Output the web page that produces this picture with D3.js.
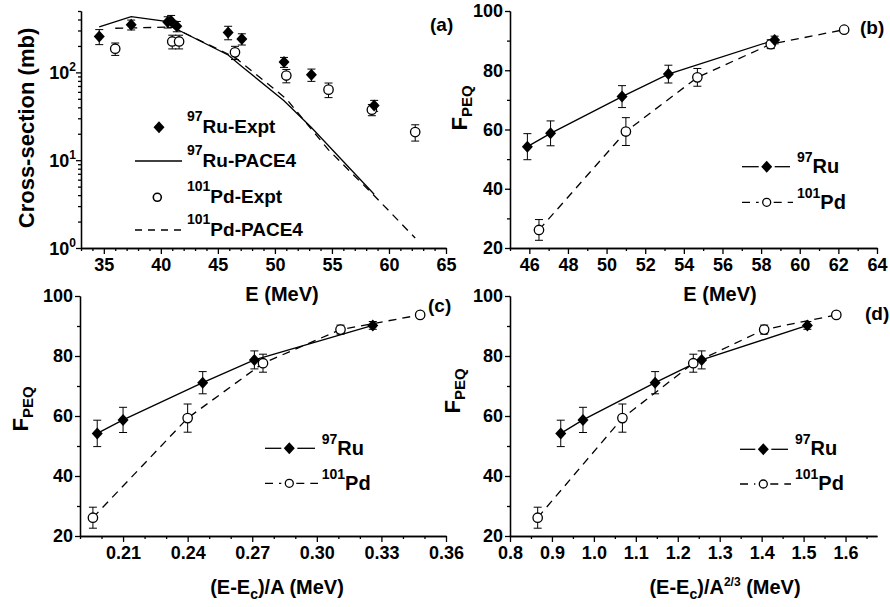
<!DOCTYPE html>
<html><head><meta charset="utf-8">
<script src="https://cdn.jsdelivr.net/npm/d3@7"></script>
<style>
body{margin:0;background:#fff}
svg{display:block;background:#fff}
text{font-family:Arial,"Liberation Sans",sans-serif;font-weight:bold;fill:#000}
</style>
</head><body>
<svg id="chart" width="890" height="607"></svg>
<script>
// ---------- Panel (a): cross-sections ----------
const ruExptE   = [34.6, 37.4, 40.6, 40.9, 41.4, 45.9, 47.1, 50.8, 53.2, 58.7];
const ruExptCS  = [257, 349, 375, 385, 335, 285, 240, 131, 94, 42];
const ruExptErr = [50, 45, 55, 60, 45, 50, 35, 17, 15, 6];
const pdExptE   = [36.0, 41.0, 41.6, 46.5, 51.0, 54.7, 58.5, 62.3];
const pdExptCS  = [186, 225, 225, 169, 92, 63.6, 37.6, 20.9];
const pdExptErr = [30, 40, 40, 29, 16, 12, 5.5, 4.4];
const ruPaceE   = [34.6, 37.4, 40.6, 41.4, 45.9, 47.1, 50.8, 53.2, 58.7];
const ruPaceCS  = [330, 432, 378, 310, 158, 117, 47.5, 23.6, 4.1];
const pdPaceE   = [36.0, 41.0, 41.6, 46.5, 51.0, 54.7, 58.5, 62.3];
const pdPaceCS  = [318, 328, 300, 148, 50, 13.1, 4.2, 1.3];

// ---------- Panels (b)-(d): F_PEQ ----------
const ruE    = [45.9, 47.1, 50.8, 53.2, 58.7];
const ruEA   = [0.198, 0.210, 0.247, 0.271, 0.326];
const ruEA23 = [0.921, 0.974, 1.146, 1.257, 1.509];
const ruF    = [54.2, 58.7, 71.1, 78.7, 90.2];
const ruFErr = [4.4, 4.2, 3.7, 3.0, 1.3];
const pdE    = [46.5, 51.0, 54.7, 58.5, 62.3];
const pdEA   = [0.196, 0.240, 0.275, 0.311, 0.348];
const pdEA23 = [0.866, 1.068, 1.237, 1.406, 1.578];
const pdF    = [26.1, 59.3, 77.6, 88.8, 93.7];
const pdFErr = [3.5, 4.7, 3.0, 1.5, 0.8];

// ---------- Ticks ----------
const xTicksA = [35, 40, 45, 50, 55, 60, 65];
const xMinorA = d3.range(33, 66, 1).filter(v => v % 5 !== 0);
const yTicksA = [1, 10, 100];
const yExpA   = ["0", "1", "2"];
const yMinorA = [2,3,4,5,6,7,8,9,20,30,40,50,60,70,80,90,200,300,400,500];
const xTicksB = [46, 48, 50, 52, 54, 56, 58, 60, 62, 64];
const xMinorB = [45, 47, 49, 51, 53, 55, 57, 59, 61, 63];
const xTicksC = [0.21, 0.24, 0.27, 0.30, 0.33, 0.36];
const xMinorC = [0.19, 0.20, 0.22, 0.23, 0.25, 0.26, 0.28, 0.29, 0.31, 0.32, 0.34, 0.35];
const xTicksD = [0.8, 0.9, 1.0, 1.1, 1.2, 1.3, 1.4, 1.5, 1.6];
const xMinorD = [0.85, 0.95, 1.05, 1.15, 1.25, 1.35, 1.45, 1.55, 1.65];
const yTicksF = [20, 40, 60, 80, 100];
const yMinorF = [30, 50, 70, 90];

const svg = d3.select("#chart");
const SW = 1.3;
const TFS = 18;

function styleAxis(sel){
  sel.select(".domain").attr("stroke","#000").attr("stroke-width",SW);
  sel.selectAll(".tick line").attr("stroke","#000").attr("stroke-width",SW);
  sel.selectAll(".tick text").attr("font-size",TFS).attr("font-weight","bold")
     .attr("font-family",'Arial,"Liberation Sans",sans-serif').attr("fill","#000");
}

function drawAxes(x, y, xMaj, xMin, xFmt, yMaj, yMin, yFmt){
  const y0 = y.range()[0], x0 = x.range()[0];
  svg.append("g").attr("transform",`translate(0,${y0})`)
    .call(d3.axisBottom(x).tickValues(xMin).tickSize(3).tickFormat("").tickSizeOuter(0)).call(styleAxis);
  svg.append("g").attr("transform",`translate(0,${y0})`)
    .call(d3.axisBottom(x).tickValues(xMaj).tickSize(6).tickPadding(4).tickFormat(xFmt).tickSizeOuter(0)).call(styleAxis);
  svg.append("g").attr("transform",`translate(${x0},0)`)
    .call(d3.axisLeft(y).tickValues(yMin).tickSize(3).tickFormat("").tickSizeOuter(0)).call(styleAxis);
  const ya = svg.append("g").attr("transform",`translate(${x0},0)`)
    .call(d3.axisLeft(y).tickValues(yMaj).tickSize(5).tickPadding(2).tickFormat(yFmt || "").tickSizeOuter(0)).call(styleAxis);
  return ya;
}

const diamond = "M0,-6L5.5,0L0,6L-5.5,0Z";

function drawErr(xs, ys, es, x, y){
  const g = svg.append("g").attr("stroke","#000").attr("stroke-width",1);
  xs.forEach((xv,i)=>{
    const px = x(xv), t = y(ys[i]+es[i]), b = y(ys[i]-es[i]);
    g.append("line").attr("x1",px).attr("x2",px).attr("y1",t).attr("y2",b);
    g.append("line").attr("x1",px-4).attr("x2",px+4).attr("y1",t).attr("y2",t);
    g.append("line").attr("x1",px-4).attr("x2",px+4).attr("y1",b).attr("y2",b);
  });
}
function drawDiamonds(xs, ys, x, y){
  svg.append("g").selectAll("path").data(xs).join("path")
    .attr("d",diamond).attr("fill","#000")
    .attr("transform",(d,i)=>`translate(${x(d)},${y(ys[i])})`);
}
function drawCircles(xs, ys, x, y){
  svg.append("g").selectAll("circle").data(xs).join("circle")
    .attr("cx",d=>x(d)).attr("cy",(d,i)=>y(ys[i])).attr("r",4.7)
    .attr("fill","#fff").attr("stroke","#000").attr("stroke-width",SW);
}
function drawLine(xs, ys, x, y, dashed){
  const pts = xs.map((v,i)=>[v, ys[i]]);
  svg.append("path").datum(pts)
    .attr("d", d3.line().x(d=>x(d[0])).y(d=>y(d[1])))
    .attr("fill","none").attr("stroke","#000").attr("stroke-width",SW)
    .attr("stroke-dasharray", dashed ? "8,6" : null);
}
function supText(x, yb, sup, main, fsMain, supDy){
  const t = svg.append("text").attr("x",x).attr("y",yb);
  t.append("tspan").attr("font-size",14).attr("dy",-supDy).text(sup);
  t.append("tspan").attr("font-size",fsMain).attr("dy",supDy).text(main);
}
function yTitleF(x, yc){
  const t = svg.append("text").attr("text-anchor","middle")
    .attr("transform",`translate(${x},${yc}) rotate(-90)`);
  t.append("tspan").attr("font-size",22).text("F");
  t.append("tspan").attr("font-size",15).attr("dy",5).text("PEQ");
}
function legendBD(xl0, xl1, xm, yRu, yPd, tx, tbRu, tbPd){
  [[xl0, xm-8],[xm+8, xl1]].forEach(s=>svg.append("line").attr("x1",s[0]).attr("x2",s[1])
     .attr("y1",yRu).attr("y2",yRu).attr("stroke","#000").attr("stroke-width",SW));
  svg.append("path").attr("d",diamond).attr("fill","#000").attr("transform",`translate(${xm},${yRu})`);
  supText(tx, tbRu, "97", "Ru", 20, 11);
  [[xl0, xm-8],[xm+7, xl1+3]].forEach(s=>svg.append("line").attr("x1",s[0]).attr("x2",s[1])
     .attr("y1",yPd).attr("y2",yPd).attr("stroke","#000").attr("stroke-width",SW).attr("stroke-dasharray","8,6"));
  svg.append("circle").attr("cx",xm).attr("cy",yPd).attr("r",4).attr("fill","#fff")
     .attr("stroke","#000").attr("stroke-width",SW);
  supText(tx, tbPd, "101", "Pd", 20, 11);
}

// ================= Panel (a) =================
{
  const x = d3.scaleLinear().domain([33, 65]).range([81, 446]);
  const y = d3.scaleLog().domain([1, 500]).range([248, 11]);
  const ya = drawAxes(x, y, xTicksA, xMinorA, d3.format("d"), yTicksA, yMinorA, null);
  yTicksA.forEach((v,i)=>{
    const t = ya.append("text").attr("x",-5).attr("y",y(v)+7).attr("text-anchor","end");
    t.append("tspan").attr("font-size",TFS).text("10");
    t.append("tspan").attr("font-size",12).attr("dy",-8).text(yExpA[i]);
  });
  drawLine(ruPaceE, ruPaceCS, x, y, false);
  drawLine(pdPaceE, pdPaceCS, x, y, true);
  drawErr(ruExptE, ruExptCS, ruExptErr, x, y);
  drawErr(pdExptE, pdExptCS, pdExptErr, x, y);
  drawCircles(pdExptE, pdExptCS, x, y);
  drawDiamonds(ruExptE, ruExptCS, x, y);
  svg.append("text").attr("text-anchor","middle").attr("font-size",22)
    .attr("transform","translate(34,128) rotate(-90)").text("Cross-section (mb)");
  svg.append("text").attr("x",282).attr("y",301).attr("text-anchor","middle").attr("font-size",20).text("E (MeV)");
  svg.append("text").attr("x",430).attr("y",31).attr("font-size",19).text("(a)");
  svg.append("path").attr("d",diamond).attr("fill","#000").attr("transform","translate(159,127.3)");
  svg.append("line").attr("x1",135).attr("x2",182).attr("y1",161).attr("y2",161).attr("stroke","#000").attr("stroke-width",SW);
  svg.append("circle").attr("cx",157.3).attr("cy",197.3).attr("r",4).attr("fill","#fff").attr("stroke","#000").attr("stroke-width",1.6);
  svg.append("line").attr("x1",135).attr("x2",182).attr("y1",230).attr("y2",230).attr("stroke","#000").attr("stroke-width",SW).attr("stroke-dasharray","7,6");
  supText(187, 133.3, "97", "Ru-Expt", 19, 12);
  supText(187, 167.3, "97", "Ru-PACE4", 19, 12);
  supText(187, 202.7, "101", "Pd-Expt", 19, 12);
  supText(187, 235.7, "101", "Pd-PACE4", 19, 12);
}

// ================= Panel (b) =================
{
  const x = d3.scaleLinear().domain([45, 64]).range([510, 877]);
  const y = d3.scaleLinear().domain([20, 100]).range([248, 11]);
  drawAxes(x, y, xTicksB, xMinorB, d3.format("d"), yTicksF, yMinorF, d3.format("d"));
  drawLine(ruE, ruF, x, y, false);
  drawLine(pdE, pdF, x, y, true);
  drawErr(ruE, ruF, ruFErr, x, y);
  drawErr(pdE, pdF, pdFErr, x, y);
  drawCircles(pdE, pdF, x, y);
  drawDiamonds(ruE, ruF, x, y);
  yTitleF(467, 108);
  svg.append("text").attr("x",720).attr("y",301).attr("text-anchor","middle").attr("font-size",20).text("E (MeV)");
  svg.append("text").attr("x",860).attr("y",34).attr("font-size",19).text("(b)");
  legendBD(742, 790, 766.7, 166.7, 202.3, 797, 173, 208.5);
}

// ================= Panel (c) =================
{
  const x = d3.scaleLinear().domain([0.19, 0.36]).range([80, 446]);
  const y = d3.scaleLinear().domain([20, 100]).range([536, 296]);
  drawAxes(x, y, xTicksC, xMinorC, d3.format(".2f"), yTicksF, yMinorF, d3.format("d"));
  drawLine(ruEA, ruF, x, y, false);
  drawLine(pdEA, pdF, x, y, true);
  drawErr(ruEA, ruF, ruFErr, x, y);
  drawErr(pdEA, pdF, pdFErr, x, y);
  drawCircles(pdEA, pdF, x, y);
  drawDiamonds(ruEA, ruF, x, y);
  yTitleF(28, 409);
  const t = svg.append("text").attr("x",277).attr("y",594).attr("text-anchor","middle").attr("font-size",20);
  t.append("tspan").text("(E-E");
  t.append("tspan").attr("font-size",14).attr("dy",5).text("c");
  t.append("tspan").attr("dy",-5).text(")/A (MeV)");
  svg.append("text").attr("x",428).attr("y",312).attr("font-size",19).text("(c)");
  legendBD(265, 315, 289.3, 448.3, 483.3, 321.7, 455, 490);
}

// ================= Panel (d) =================
{
  const x = d3.scaleLinear().domain([0.8, 1.675]).range([510, 877]);
  const y = d3.scaleLinear().domain([20, 100]).range([536, 296]);
  drawAxes(x, y, xTicksD, xMinorD, d3.format(".1f"), yTicksF, yMinorF, d3.format("d"));
  drawLine(ruEA23, ruF, x, y, false);
  drawLine(pdEA23, pdF, x, y, true);
  drawErr(ruEA23, ruF, ruFErr, x, y);
  drawErr(pdEA23, pdF, pdFErr, x, y);
  drawCircles(pdEA23, pdF, x, y);
  drawDiamonds(ruEA23, ruF, x, y);
  yTitleF(460, 391);
  const t = svg.append("text").attr("x",725).attr("y",594).attr("text-anchor","middle").attr("font-size",20);
  t.append("tspan").text("(E-E");
  t.append("tspan").attr("font-size",14).attr("dy",5).text("c");
  t.append("tspan").attr("dy",-5).text(")/A");
  t.append("tspan").attr("font-size",12).attr("dy",-8).text("2/3");
  t.append("tspan").attr("dy",8).text(" (MeV)");
  svg.append("text").attr("x",865).attr("y",320).attr("font-size",19).text("(d)");
  legendBD(740, 788, 763.3, 449.3, 484, 795, 455, 490);
}
</script>
</body></html>
